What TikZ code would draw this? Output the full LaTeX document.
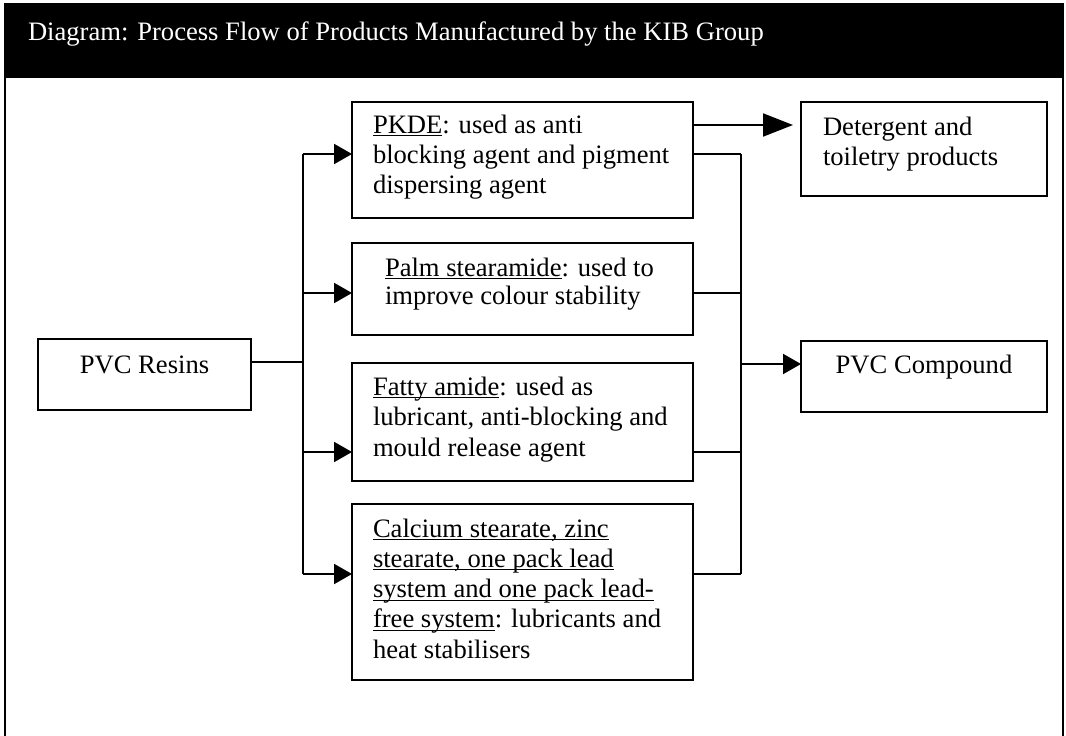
\documentclass[tikz,border=0pt]{standalone}
\usepackage{fontspec}
\setmainfont{Liberation Serif}
\usetikzlibrary{arrows.meta}
% underline drawn a fixed distance below the baseline
\newcommand\myul[1]{\leavevmode\setbox0\hbox{#1}\rlap{\rule[-3pt]{\wd0}{1.1pt}}\box0}
\begin{document}
\begin{tikzpicture}[x=1pt,y=-1pt,
  box/.style={draw, line width=2.2pt, inner sep=0pt, outer sep=0pt, anchor=north west},
  txt/.style={inner sep=0pt, outer sep=0pt, anchor=base west, font=\fontsize{26.6}{30}\selectfont},
  wire/.style={line width=2pt},
  arr/.style={wire, -{Triangle[length=18pt,width=20pt]}},
  bigarr/.style={wire, -{Triangle[length=30pt,width=23pt]}},
]
\useasboundingbox (0,0) rectangle (1066,736);

% frame and title bar
\fill[black] (4,4) rectangle (1064,78);
\draw[line width=2pt] (5,736) -- (5,4) -- (1063,4) -- (1063,736);
\node[txt, text=white] (title) at (28,40)
  {Diagram: Process Flow of Products Manufactured by the KIB Group};

% boxes
\node[box, minimum width=213pt, minimum height=71pt]  (resins) at (38,339) {};
\node[box, minimum width=341pt, minimum height=116pt] (pkde)   at (352,102) {};
\node[box, minimum width=341pt, minimum height=92pt]  (palm)   at (352,243) {};
\node[box, minimum width=341pt, minimum height=118pt] (fatty)  at (352,363) {};
\node[box, minimum width=341pt, minimum height=176pt] (calc)   at (352,504) {};
\node[box, minimum width=246pt, minimum height=94pt]  (det)    at (801,102) {};
\node[box, minimum width=246pt, minimum height=71pt]  (comp)   at (801,341) {};

% box texts
\node[txt, anchor=base] (resinsT) at (144.5,373) {PVC Resins};
\node[txt] (pkdeT) at (373,133) {\parbox[t]{310pt}{\raggedright
  \myul{PKDE}: used as anti\\
  blocking agent and pigment\\
  dispersing agent}};
\node[txt, font=\fontsize{26.6}{28}\selectfont] (palmT) at (385,276) {\parbox[t]{300pt}{\raggedright
  \myul{Palm stearamide}: used to\\
  improve colour stability}};
\node[txt, font=\fontsize{26.6}{30.5}\selectfont] (fattyT) at (373,395) {\parbox[t]{310pt}{\raggedright
  \myul{Fatty amide}: used as\\
  lubricant, anti-blocking and\\
  mould release agent}};
\node[txt, font=\fontsize{26.6}{30.3}\selectfont] (calcT) at (373,537) {\parbox[t]{310pt}{\raggedright
  \myul{Calcium stearate, zinc}\\
  \myul{stearate, one pack lead}\\
  \myul{system and one pack lead-}\\
  \myul{free system}: lubricants and\\
  heat stabilisers}};
\node[txt] (detT) at (823,135) {\parbox[t]{220pt}{\raggedright
  Detergent and\\
  toiletry products}};
\node[txt, anchor=base] (compT) at (924,373) {PVC Compound};

% left distribution bus
\coordinate (lM) at (303,362);
\coordinate (lA) at (303,154);
\coordinate (lB) at (303,293);
\coordinate (lC) at (303,452);
\coordinate (lD) at (303,574);
\draw[wire] (resins.east |- lM) -- (lM);
\draw[wire] (lA) -- (lD);
\draw[arr] (lA) -- (pkde.west |- lA);
\draw[arr] (lB) -- (palm.west |- lB);
\draw[arr] (lC) -- (fatty.west |- lC);
\draw[arr] (lD) -- (calc.west |- lD);

% right collecting bus
\coordinate (rA) at (741,154);
\coordinate (rB) at (741,293);
\coordinate (rC) at (741,452);
\coordinate (rD) at (741,574);
\coordinate (rM) at (741,364);
\draw[wire] (pkde.east |- rA) -- (rA);
\draw[wire] (palm.east |- rB) -- (rB);
\draw[wire] (fatty.east |- rC) -- (rC);
\draw[wire] (calc.east |- rD) -- (rD);
\draw[wire] (rA) -- (rD);
\draw[arr] (rM) -- (comp.west |- rM);

% PKDE to detergent products
\coordinate (dY) at (0,125);
\draw[bigarr, shorten >=8pt] (pkde.east |- dY) -- (det.west |- dY);
\end{tikzpicture}
\end{document}
